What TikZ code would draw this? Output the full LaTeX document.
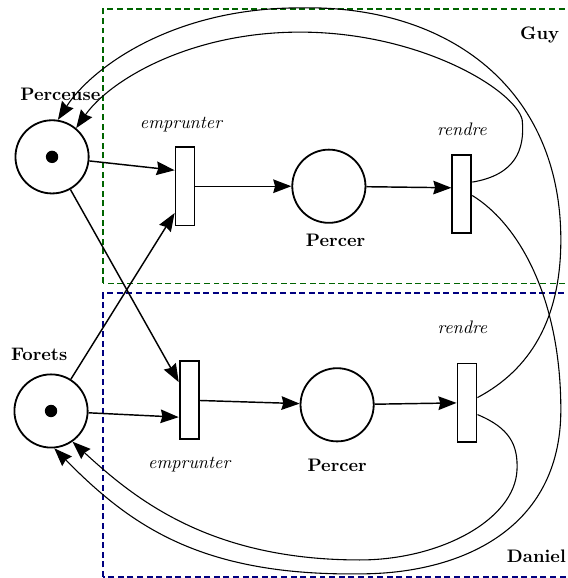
\documentclass[tikz,border=0pt]{standalone}
\usepackage{tikz}
\usetikzlibrary{arrows.meta,positioning}
\definecolor{guygreen}{RGB}{0,100,0}
\definecolor{danblue}{RGB}{0,0,128}

\tikzset{
  place/.style={draw,circle,line width=1pt,minimum size=1.42cm,inner sep=0pt},
  transition/.style={draw,rectangle,line width=1pt,minimum width=0.37cm,minimum height=1.52cm,inner sep=0pt},
  flow/.style={thick,-{Stealth[length=10pt,width=7.5pt,inset=1pt]}},
  loopback/.style={semithick,-{Stealth[length=10pt,width=7.5pt,inset=1pt]}},
  plab/.style={font=\bfseries},
  tlab/.style={font=\itshape},
  zone/.style={line width=0.7pt,dash pattern=on 3.3pt off 2pt}
}

\begin{document}
\begin{tikzpicture}[scale=1.0]
  \useasboundingbox (0,0) rectangle (11.0,11.213);

  \draw[zone,guygreen] (2.0,5.72) rectangle (11.5,11.04);  %Guy zone
  \draw[zone,danblue] (2.0,0.02) rectangle (11.5,5.53);    %Daniel zone
  \node[plab,anchor=base] (guy) at (10.47,10.44) {Guy};
  \node[plab,anchor=base east] (daniel) at (11.1,0.31) {Daniel};

  \node[place] (p1) at (1.01,8.17) {};   %Perceuse
  \node[place] (f) at (0.99,3.24) {};    %Forets
  \fill (p1) circle (0.12) ;             %tokens
  \fill (f) circle (0.12) ;
  \node[plab,above=6.6pt of p1,xshift=0.16cm] (lp1) {Perceuse};
  \node[plab,above=3.3pt of f,xshift=-0.23cm] (lf) {Forets};

  \node[transition] (te) at (3.59,7.60) {};  %Guy emprunter
  \node[place] (pc1) at (6.38,7.60) {};      %Guy percer
  \node[transition] (tr) at (8.96,7.45) {};  %Guy rendre
  \node[tlab,above=4.3pt of te,xshift=-0.08cm] (lte) {emprunter};
  \node[plab,below=2.2pt of pc1,xshift=0.13cm] (lpc1) {Percer};
  \node[tlab,above=6.6pt of tr] (ltr) {rendre};

  \node[transition] (be) at (3.67,3.45) {};  %Daniel emprunter
  \node[place] (pc2) at (6.54,3.36) {};      %Daniel percer
  \node[transition] (br) at (9.06,3.40) {};  %Daniel rendre
  \node[tlab,below=6pt of be] (lbe) {emprunter};
  \node[plab,below=5.5pt of pc2] (lpc2) {Percer};
  \node[tlab,above=12.6pt of br,xshift=-0.09cm] (lbr) {rendre};

  \draw[flow] (p1) -- ([yshift=0.31cm]te.west);
  \draw[flow] (f) -- ([yshift=-0.52cm]te.west);
  \draw[flow] (te) -- (pc1);
  \draw[flow] (pc1) -- ([yshift=0.12cm]tr.west);

  \draw[flow] (p1) -- ([yshift=0.35cm]be.west);
  \draw[flow] (f) -- ([yshift=-0.33cm]be.west);
  \draw[flow] (be) -- (pc2);
  \draw[flow] (pc2) -- (br);

  % give back the drill and bits
  \draw[loopback] ([yshift=0.23cm]tr.east) .. controls (9.99,7.82) and (10.19,8.30) .. (10.13,8.89)
     .. controls (9.99,9.47) and (8.15,10.59) .. (5.82,10.59)
     .. controls (3.69,10.59) and (2.13,9.66) .. (p1.50);
  \draw[loopback] ([yshift=0.1cm]br.east) .. controls (10.28,4.04) and (10.88,5.01) .. (10.88,6.56)
     .. controls (10.88,9.47) and (8.73,11.12) .. (5.82,11.06)
     .. controls (3.30,11.06) and (1.75,9.86) .. (p1.81);
  \draw[loopback] ([yshift=-0.03cm]tr.east) .. controls (10.09,6.85) and (10.88,5.39) .. (10.88,3.26)
     .. controls (10.88,0.93) and (8.92,0.08) .. (6.98,0.08)
     .. controls (3.88,0.04) and (2.52,1.03) .. (f.-85);
  \draw[loopback] ([yshift=-0.23cm]br.east) .. controls (9.89,2.91) and (10.05,2.58) .. (10.03,2.10)
     .. controls (9.99,1.13) and (8.54,0.35) .. (6.98,0.35)
     .. controls (4.07,0.35) and (2.62,1.53) .. (f.-55);
\end{tikzpicture}
\end{document}
